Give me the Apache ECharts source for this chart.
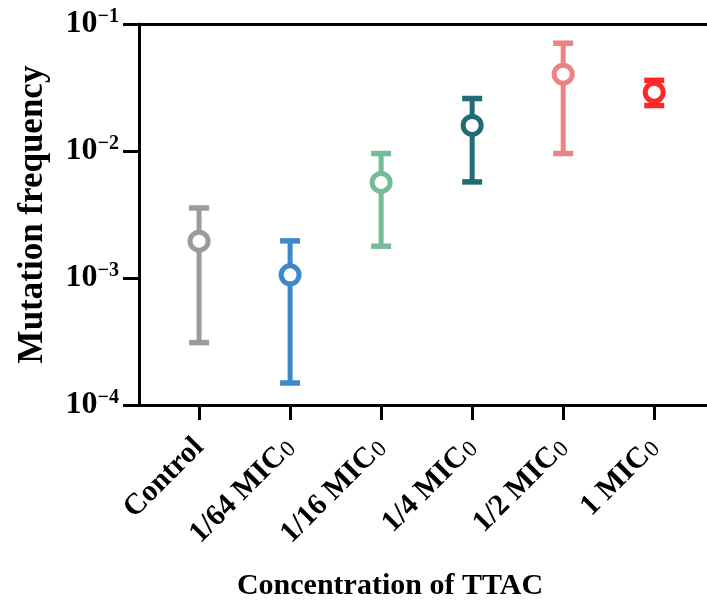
<!DOCTYPE html>
<html>
<head>
<meta charset="utf-8">
<script src="https://cdn.jsdelivr.net/npm/echarts@6/dist/echarts.min.js"></script>
<style>
html,body{margin:0;padding:0;background:#fff;}
#chart{width:707px;height:606px;}
</style>
</head>
<body>
<div id="chart"></div>
<script>
// Data
var categories = ['Control', '1/64 MIC', '1/16 MIC', '1/4 MIC', '1/2 MIC', '1 MIC'];
var subscripts = ['', '0', '0', '0', '0', '0'];
var meanValues = [1.95e-3, 1.06e-3, 5.65e-3, 1.59e-2, 4.03e-2, 2.90e-2];
var upperValues = [3.56e-3, 1.96e-3, 9.55e-3, 2.59e-2, 7.06e-2, 3.60e-2];
var lowerValues = [3.1e-4, 1.49e-4, 1.78e-3, 5.71e-3, 9.55e-3, 2.28e-2];
var colors = ['#9b9b9b', '#3d88c9', '#74bc99', '#216c74', '#ee8282', '#ff2727'];
var yTickValues = [1e-4, 1e-3, 1e-2, 1e-1];

var FONT = '"Liberation Serif", "Times New Roman", serif';

var chart = echarts.init(document.getElementById('chart'), null, {renderer: 'canvas'});

var idx = categories.map(function (c, i) { return i; });
var errData = idx.map(function (i) { return [i, lowerValues[i], upperValues[i]]; });
var ptData = idx.map(function (i) {
  return {
    value: [i, meanValues[i]],
    itemStyle: {color: '#ffffff', borderColor: colors[i], borderWidth: 5, opacity: 1}
  };
});

var option = {
  backgroundColor: '#ffffff',
  animation: false,
  grid: {left: 139, right: 0, top: 24, bottom: 197, containLabel: false},
  xAxis: [{
    type: 'value',
    min: -0.66,
    max: 5.58,
    position: 'bottom',
    splitLine: {show: false},
    axisLine: {show: true, onZero: false, lineStyle: {color: '#000', width: 3}},
    axisTick: {show: true, customValues: idx, length: 15, lineStyle: {color: '#000', width: 3}},
    axisLabel: {
      show: true,
      customValues: idx,
      rotate: 45,
      margin: 38,
      formatter: function (v) {
        var i = Math.round(v);
        var s = '{m|' + categories[i] + '}';
        if (subscripts[i]) s += '{sub|' + subscripts[i] + '}';
        return s;
      },
      rich: {
        m: {fontFamily: FONT, fontWeight: 'bold', fontSize: 30, color: '#000'},
        sub: {fontFamily: FONT, fontWeight: 'normal', fontSize: 23, color: '#000', verticalAlign: 'bottom', padding: [6, 0, 0, 1]}
      }
    },
    name: 'Concentration of TTAC',
    nameLocation: 'middle',
    nameGap: 166,
    nameTextStyle: {fontFamily: FONT, fontWeight: 'bold', fontSize: 30, color: '#000', padding: [0, 66, 0, 0]}
  }, {
    type: 'value',
    min: -0.66,
    max: 5.58,
    position: 'top',
    splitLine: {show: false},
    axisLine: {show: true, onZero: false, lineStyle: {color: '#000', width: 3}},
    axisTick: {show: false},
    axisLabel: {show: false}
  }],
  yAxis: {
    type: 'log',
    logBase: 10,
    min: 1e-4,
    max: 1e-1,
    splitLine: {show: false},
    axisLine: {show: true, onZero: false, lineStyle: {color: '#000', width: 3}},
    axisTick: {show: true, customValues: yTickValues, length: 16, lineStyle: {color: '#000', width: 3}},
    axisLabel: {
      customValues: yTickValues,
      margin: 20,
      formatter: function (v) {
        var e = Math.round(Math.log(v) / Math.LN10);
        return '{b|10}{s|' + (e < 0 ? '\u2212' + (-e) : e) + '}';
      },
      rich: {
        b: {fontFamily: FONT, fontWeight: 'bold', fontSize: 32, color: '#000'},
        s: {fontFamily: FONT, fontWeight: 'bold', fontSize: 20, color: '#000', verticalAlign: 'top', padding: [0, 0, 14, 0]}
      }
    },
    name: 'Mutation frequency',
    nameLocation: 'middle',
    nameGap: 89,
    nameTextStyle: {fontFamily: FONT, fontWeight: 'bold', fontSize: 35, color: '#000'}
  },
  series: [{
    type: 'custom',
    xAxisIndex: 0,
    data: errData,
    z: 2,
    renderItem: function (params, api) {
      var x = api.value(0);
      var lo = api.value(1), hi = api.value(2);
      var pHi = api.coord([x, hi]);
      var pLo = api.coord([x, lo]);
      var c = colors[params.dataIndex];
      var w = 10;
      return {
        type: 'group',
        children: [
          {type: 'line', shape: {x1: pHi[0], y1: pHi[1], x2: pLo[0], y2: pLo[1]}, style: {stroke: c, lineWidth: 5}},
          {type: 'line', shape: {x1: pHi[0] - w, y1: pHi[1], x2: pHi[0] + w, y2: pHi[1]}, style: {stroke: c, lineWidth: 5.5}},
          {type: 'line', shape: {x1: pLo[0] - w, y1: pLo[1], x2: pLo[0] + w, y2: pLo[1]}, style: {stroke: c, lineWidth: 5.5}}
        ]
      };
    }
  }, {
    type: 'scatter',
    xAxisIndex: 0,
    symbol: 'circle',
    symbolSize: 18,
    z: 3,
    itemStyle: {opacity: 1},
    data: ptData
  }]
};
chart.setOption(option);
</script>
</body>
</html>
